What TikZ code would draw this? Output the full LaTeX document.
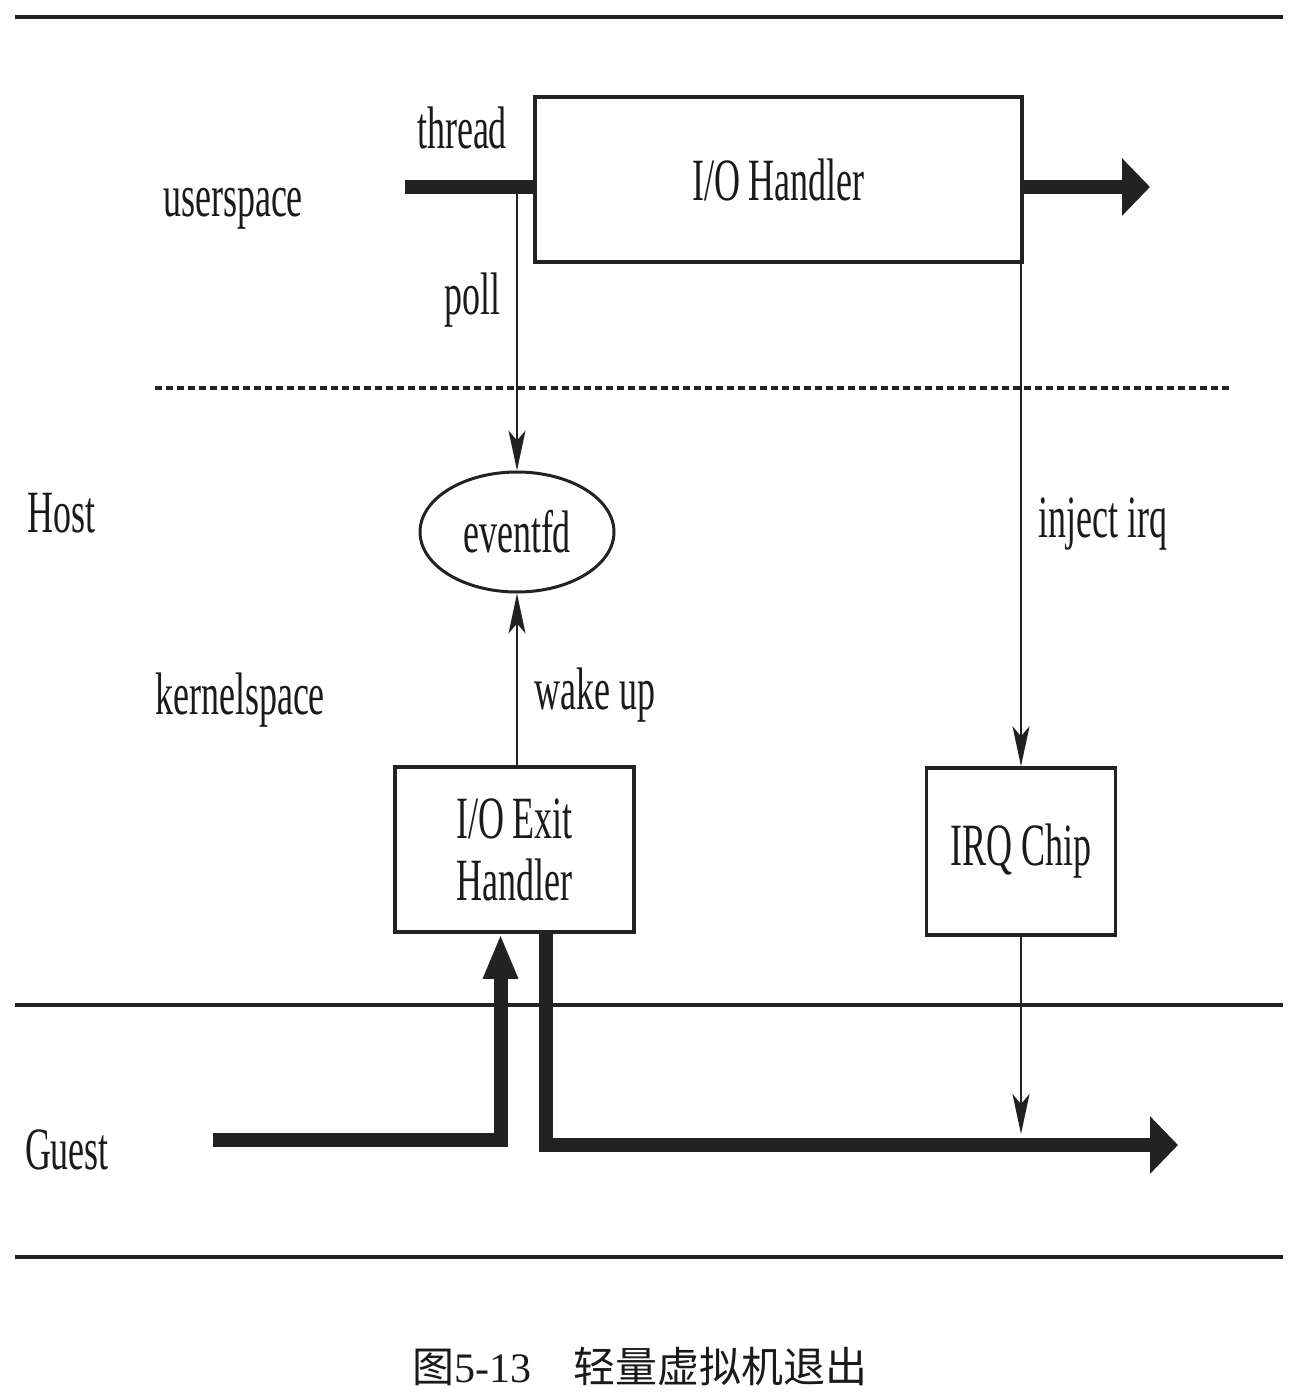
\documentclass[tikz,border=0pt]{standalone}
\usepackage{fontspec}
\setmainfont{Liberation Serif}[FakeStretch=0.6]
\newfontfamily\capcjk{Noto Sans CJK SC}
\newfontfamily\capnum{Liberation Serif}
\usetikzlibrary{arrows.meta, positioning, shapes.geometric, calc}
\definecolor{lineDark}{HTML}{222222}
\definecolor{textDark}{HTML}{1A1A1A}
\tikzset{
  layerLine/.style={draw=lineDark, line width=4pt},
  hostSplit/.style={draw=lineDark, line width=3.5pt, dash pattern=on 7pt off 4pt},
  boxIO/.style={rectangle, draw=lineDark, line width=3.5pt, fill=white,
                text=textDark, align=center, inner sep=0pt},
  ellFD/.style={ellipse, draw=lineDark, line width=3pt, fill=white,
                text=textDark, inner sep=0pt},
  arrowThin/.style={-{Stealth[length=40pt, width=17pt, inset=10pt]},
                    draw=lineDark, line width=2.2pt},
  flowThick/.style={draw=lineDark, line width=14pt},
  arrowFlow/.style={flowThick, -{Triangle[length=28pt, width=56pt]}},
  arrowUp/.style={flowThick, -{Triangle[length=45pt, width=32pt]}},
  lbl/.style={text=textDark, inner sep=0pt},
}
\begin{document}
\begin{tikzpicture}[x=1pt, y=-1pt, font=\fontsize{60}{62}\selectfont]
    \useasboundingbox (0,0) rectangle (1297,1397);
    \foreach \y in {17,1005,1257}
      \draw[layerLine] (15,\y) -- (1283,\y);
    \draw[hostSplit] (155,388) -- (1232,388);

    \node[lbl] (us) at (233,209) {userspace};
    \node[lbl] (host) at (62,513) {Host};
    \node[lbl] (ks) at (240,700) {kernelspace};
    \node[lbl] (guest) at (67,1150) {Guest};

    \node[boxIO, minimum width=487pt, minimum height=165pt] (ioh) at (778.5,179.5) {I/O Handler};
    \node[ellFD, minimum width=194pt, minimum height=120pt] (evfd) at (517,532) {eventfd};
    \node[boxIO, minimum width=239pt, minimum height=165pt,
          font=\fontsize{60}{62}\selectfont] (exit) at (514.5,849.5) {I/O Exit\\Handler};
    \node[boxIO, minimum width=189pt, minimum height=167pt] (irq) at (1021,851.5) {IRQ Chip};

    \coordinate (tstart) at (405,187);
    \coordinate (tend) at (1150,187);
    \coordinate (pollsrc) at (517,187);
    \coordinate (gin) at (213,1140);
    \coordinate (gend) at (1178,1145);
    \coordinate (irqhit) at (1021,1134);

    \draw[flowThick] (tstart) -- (tstart -| ioh.west);
    \draw[arrowFlow] (ioh.east |- tend) -- (tend);
    \draw[arrowThin] (pollsrc) -- (pollsrc |- evfd.north);
    \draw[arrowThin] (exit.north -| evfd.south) -- (evfd.south);
    \draw[arrowThin] (ioh.south -| irq.north) -- (irq.north);
    \draw[arrowThin] (irq.south) -- (irqhit);
    \draw[arrowUp] (gin) -| ([xshift=-14pt]exit.south);
    \draw[arrowFlow] ([xshift=31pt]exit.south) |- (gend);

    \node[lbl] (thr) at (462,128) {thread};
    \node[lbl] (pl) at (472,300) {poll};
    \node[lbl] (wk) at (595,695) {wake up};
    \node[lbl] (inj) at (1103,524) {inject irq};

    \node[lbl, font=\fontsize{42}{46}\selectfont] (cap) at (640,1367)
      {\capcjk 图\capnum 5-13\quad\capcjk 轻量虚拟机退出};
  \end{tikzpicture}
\end{document}
